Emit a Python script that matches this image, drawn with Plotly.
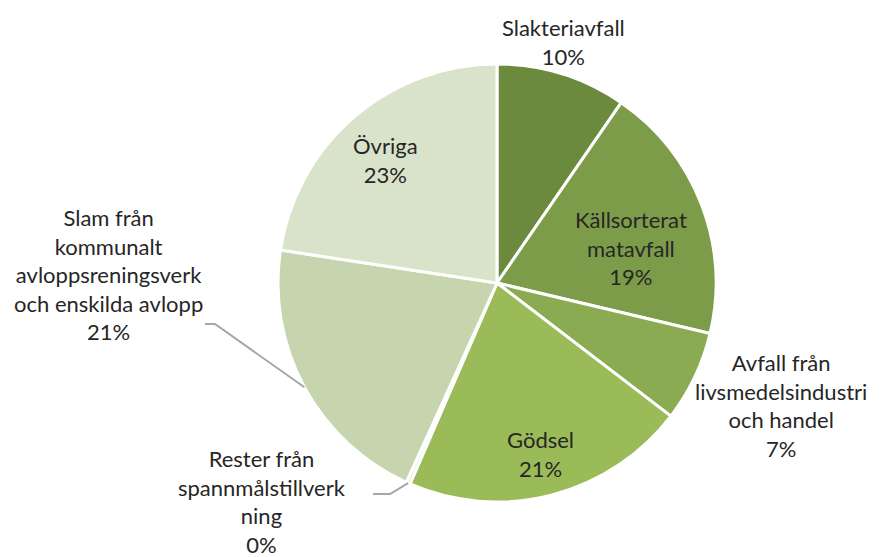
import math
import plotly.graph_objects as go

# ---- data ----
categories = [
    "Slakteriavfall",
    "Källsorterat matavfall",
    "Avfall från livsmedelsindustri och handel",
    "Gödsel",
    "Rester från spannmålstillverkning",
    "Slam från kommunalt avloppsreningsverk och enskilda avlopp",
    "Övriga",
]
label_text = [
    "Slakteriavfall",
    "Källsorterat<br>matavfall",
    "Avfall från<br>livsmedelsindustri<br>och handel",
    "Gödsel",
    "Rester från<br>spannmålstillverk<br>ning",
    "Slam från<br>kommunalt<br>avloppsreningsverk<br>och enskilda avlopp",
    "Övriga",
]
shares = [9.6, 19.1, 6.7, 21.1, 0.3, 20.6, 22.6]
colors = ["#6B8A3E", "#7D9C49", "#8BAB53", "#9BBB59", "#E4ECD6", "#C6D5AE", "#D9E3CA"]

W, H = 888, 557
OFF = 8  # page body margin offset
CX, CY, R = 497, 283, 219

def px(x):
    return (x - OFF) / W

def py(y):
    return 1 - (y - OFF) / H

fig = go.Figure(
    go.Pie(
        labels=categories,
        values=shares,
        sort=False,
        direction="clockwise",
        rotation=0,
        marker=dict(colors=colors, line=dict(color="white", width=3)),
        textinfo="none",
        hoverinfo="label+percent",
        showlegend=False,
        domain=dict(x=[px(CX - R), px(CX + R)], y=[py(CY + R), py(CY - R)]),
    )
)

# label block centres (pixels)
label_pos = [(563, 42), (631, 248), (781, 405), (540, 454), (262, 501), (108, 274), (385, 160)]
total = sum(shares)
for lab, v, (lx, ly) in zip(label_text, shares, label_pos):
    pct = round(100 * v / total)
    fig.add_annotation(
        x=px(lx), y=py(ly), xref="paper", yref="paper",
        text=f"{lab}<br>{pct}%", showarrow=False,
        xanchor="center", yanchor="middle", align="center",
        font=dict(family="Lato", size=22, color="#262626"),
    )

# leader lines for Rester and Slam, starting at the slice mid-angle on the rim
cum = 0
mids = []
for v in shares:
    mids.append((cum + v / 2) / total * 2 * math.pi)
    cum += v

def rim(i):
    a = mids[i]
    return CX + R * math.sin(a), CY - R * math.cos(a)

leaders = {4: [(390, 494), (373, 494)], 5: [(215, 324), (205, 324)]}
for i, pts in leaders.items():
    sx, sy = rim(i)
    path_pts = [(sx, sy)] + pts
    d = "M " + " L ".join(f"{px(x)},{py(y)}" for x, y in path_pts)
    fig.add_shape(type="path", path=d, xref="paper", yref="paper",
                  line=dict(color="#A6A6A6", width=2))

fig.update_layout(
    width=W, height=H,
    margin=dict(l=0, r=0, t=0, b=0),
    paper_bgcolor="white", plot_bgcolor="white",
)
fig.write_html("out.html")
